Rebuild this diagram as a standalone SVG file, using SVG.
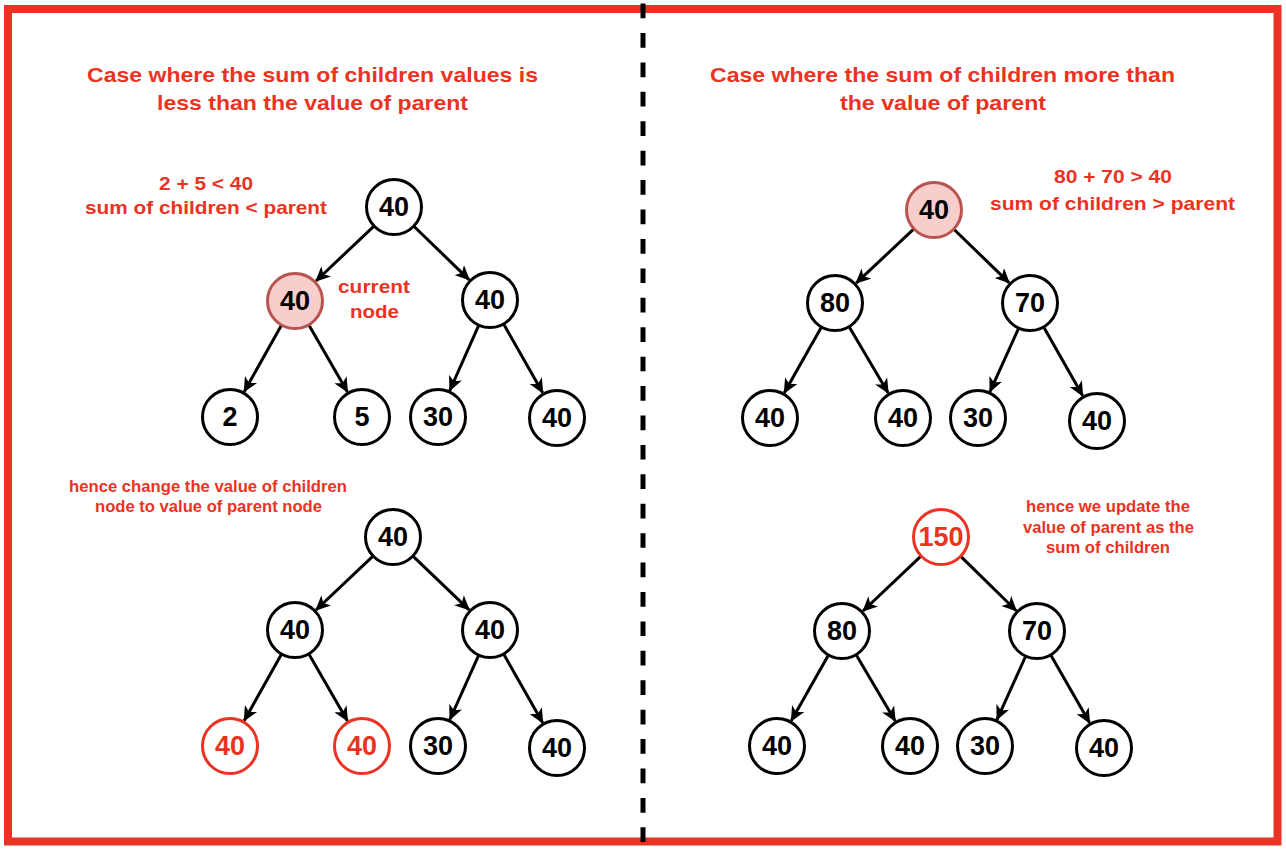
<svg xmlns="http://www.w3.org/2000/svg" width="1286" height="852" viewBox="0 0 1286 852">
<style>
.lbl{font-family:"Liberation Sans",Arial,sans-serif;font-weight:bold;fill:#EA3323;text-anchor:middle}
.t20{font-size:21px}
.t18{font-size:19px}
.t15{font-size:16px}
.node circle{fill:#FFFFFF;stroke:#000000;stroke-width:3}
.node text{font-family:"Liberation Sans",Arial,sans-serif;font-weight:bold;font-size:27px;fill:#000000;text-anchor:middle;dominant-baseline:central}
.node.cur circle{fill:#F8CECC;stroke:#B85450}
.node.red circle{stroke:#EA3323}
.node.red text{fill:#EA3323}
.edges line{stroke:#000000;stroke-width:3;marker-end:url(#arr)}
</style>
<defs>
<marker id="arr" viewBox="0 0 15 14" markerWidth="15" markerHeight="14" refX="14" refY="7" markerUnits="userSpaceOnUse" orient="auto">
<path d="M0,0 L15,7 L0,14 L4,7 z" fill="#000000"/>
</marker>
</defs>
<rect x="0" y="0" width="1286" height="852" fill="#FFFFFF"/>
<rect id="frame" x="8" y="9" width="1269.5" height="832.5" fill="none" stroke="#EA3323" stroke-width="8"/>
<line id="divider" x1="643" y1="3.6" x2="643" y2="845" stroke="#000000" stroke-width="5" stroke-dasharray="14.7 14.72"/>

<g id="texts">
<text class="lbl t20" x="312.5" y="82" textLength="451" lengthAdjust="spacingAndGlyphs">Case where the sum of children values is</text>
<text class="lbl t20" x="312.5" y="110" textLength="311" lengthAdjust="spacingAndGlyphs">less than the value of parent</text>
<text class="lbl t20" x="942.5" y="82" textLength="465" lengthAdjust="spacingAndGlyphs">Case where the sum of children more than</text>
<text class="lbl t20" x="943" y="110" textLength="206" lengthAdjust="spacingAndGlyphs">the value of parent</text>
<text class="lbl t18" x="206" y="190" textLength="94" lengthAdjust="spacingAndGlyphs">2 + 5 &lt; 40</text>
<text class="lbl t18" x="206" y="214" textLength="242" lengthAdjust="spacingAndGlyphs">sum of children &lt; parent</text>
<text class="lbl t18" x="374" y="293" textLength="72" lengthAdjust="spacingAndGlyphs">current</text>
<text class="lbl t18" x="374.5" y="318" textLength="49" lengthAdjust="spacingAndGlyphs">node</text>
<text class="lbl t15" x="208" y="492" textLength="278" lengthAdjust="spacingAndGlyphs">hence change the value of children</text>
<text class="lbl t15" x="208.5" y="512" textLength="227" lengthAdjust="spacingAndGlyphs">node to value of parent node</text>
<text class="lbl t18" x="1113" y="183" textLength="118" lengthAdjust="spacingAndGlyphs">80 + 70 &gt; 40</text>
<text class="lbl t18" x="1112.5" y="210" textLength="245" lengthAdjust="spacingAndGlyphs">sum of children &gt; parent</text>
<text class="lbl t15" x="1108" y="512" textLength="164" lengthAdjust="spacingAndGlyphs">hence we update the</text>
<text class="lbl t15" x="1108.5" y="533" textLength="171" lengthAdjust="spacingAndGlyphs">value of parent as the</text>
<text class="lbl t15" x="1108" y="553" textLength="124" lengthAdjust="spacingAndGlyphs">sum of children</text>
</g>

<g class="edges" id="connectors">
<line x1="373.7" y1="226.3" x2="316" y2="281"/>
<line x1="414.1" y1="226.5" x2="469.2" y2="279.8"/>
<line x1="281.3" y1="325.4" x2="244.2" y2="391.7"/>
<line x1="309" y1="325.2" x2="347.5" y2="391.9"/>
<line x1="478.6" y1="325.6" x2="449.8" y2="390.5"/>
<line x1="503.8" y1="324.3" x2="542.7" y2="392.8"/>

<line x1="372.7" y1="556.3" x2="316" y2="610"/>
<line x1="413.2" y1="556.4" x2="469.1" y2="609.9"/>
<line x1="281.3" y1="654.4" x2="244.2" y2="720.7"/>
<line x1="309" y1="654.2" x2="347.5" y2="720.9"/>
<line x1="478.5" y1="655.6" x2="449.9" y2="719.5"/>
<line x1="503.8" y1="654.3" x2="542.7" y2="722.8"/>

<line x1="913.6" y1="229.2" x2="856.1" y2="283.1"/>
<line x1="954.1" y1="229.5" x2="1009.2" y2="282.8"/>
<line x1="821.2" y1="327.4" x2="784.3" y2="392.8"/>
<line x1="849.3" y1="327.1" x2="888.2" y2="393"/>
<line x1="1018.5" y1="328.5" x2="990" y2="391.6"/>
<line x1="1043.8" y1="327.3" x2="1082.7" y2="395.8"/>

<line x1="920.7" y1="556.3" x2="863" y2="611"/>
<line x1="961" y1="556.6" x2="1016.3" y2="610.7"/>
<line x1="828.2" y1="655.4" x2="791.3" y2="720.8"/>
<line x1="856.3" y1="655.1" x2="895.2" y2="721"/>
<line x1="1025.5" y1="656.5" x2="997" y2="719.6"/>
<line x1="1050.9" y1="655.3" x2="1089.6" y2="722.8"/>
</g>

<g id="n-l1-root" class="node"><circle cx="394" cy="207" r="27.5"/><text x="394" y="207">40</text></g>
<g id="n-l1-a" class="node cur"><circle cx="295" cy="301" r="27.5"/><text x="295" y="301">40</text></g>
<g id="n-l1-b" class="node"><circle cx="490" cy="300" r="27.5"/><text x="490" y="300">40</text></g>
<g id="n-l1-c" class="node"><circle cx="230" cy="417" r="27.5"/><text x="230" y="417">2</text></g>
<g id="n-l1-d" class="node"><circle cx="362" cy="417" r="27.5"/><text x="362" y="417">5</text></g>
<g id="n-l1-e" class="node"><circle cx="438" cy="417" r="27.5"/><text x="438" y="417">30</text></g>
<g id="n-l1-f" class="node"><circle cx="557" cy="418" r="27.5"/><text x="557" y="418">40</text></g>

<g id="n-l2-root" class="node"><circle cx="393" cy="537" r="27.5"/><text x="393" y="537">40</text></g>
<g id="n-l2-a" class="node"><circle cx="295" cy="630" r="27.5"/><text x="295" y="630">40</text></g>
<g id="n-l2-b" class="node"><circle cx="490" cy="630" r="27.5"/><text x="490" y="630">40</text></g>
<g id="n-l2-c" class="node red"><circle cx="230" cy="746" r="27.5"/><text x="230" y="746">40</text></g>
<g id="n-l2-d" class="node red"><circle cx="362" cy="746" r="27.5"/><text x="362" y="746">40</text></g>
<g id="n-l2-e" class="node"><circle cx="438" cy="746" r="27.5"/><text x="438" y="746">30</text></g>
<g id="n-l2-f" class="node"><circle cx="557" cy="748" r="27.5"/><text x="557" y="748">40</text></g>

<g id="n-r1-root" class="node cur"><circle cx="934" cy="210" r="27.5"/><text x="934" y="210">40</text></g>
<g id="n-r1-a" class="node"><circle cx="835" cy="303" r="27.5"/><text x="835" y="303">80</text></g>
<g id="n-r1-b" class="node"><circle cx="1030" cy="303" r="27.5"/><text x="1030" y="303">70</text></g>
<g id="n-r1-c" class="node"><circle cx="770" cy="418" r="27.5"/><text x="770" y="418">40</text></g>
<g id="n-r1-d" class="node"><circle cx="903" cy="418" r="27.5"/><text x="903" y="418">40</text></g>
<g id="n-r1-e" class="node"><circle cx="978" cy="418" r="27.5"/><text x="978" y="418">30</text></g>
<g id="n-r1-f" class="node"><circle cx="1097" cy="421" r="27.5"/><text x="1097" y="421">40</text></g>

<g id="n-r2-root" class="node red"><circle cx="941" cy="537" r="27.5"/><text x="941" y="537">150</text></g>
<g id="n-r2-a" class="node"><circle cx="842" cy="631" r="27.5"/><text x="842" y="631">80</text></g>
<g id="n-r2-b" class="node"><circle cx="1037" cy="631" r="27.5"/><text x="1037" y="631">70</text></g>
<g id="n-r2-c" class="node"><circle cx="777" cy="746" r="27.5"/><text x="777" y="746">40</text></g>
<g id="n-r2-d" class="node"><circle cx="910" cy="746" r="27.5"/><text x="910" y="746">40</text></g>
<g id="n-r2-e" class="node"><circle cx="985" cy="746" r="27.5"/><text x="985" y="746">30</text></g>
<g id="n-r2-f" class="node"><circle cx="1104" cy="748" r="27.5"/><text x="1104" y="748">40</text></g>
</svg>
